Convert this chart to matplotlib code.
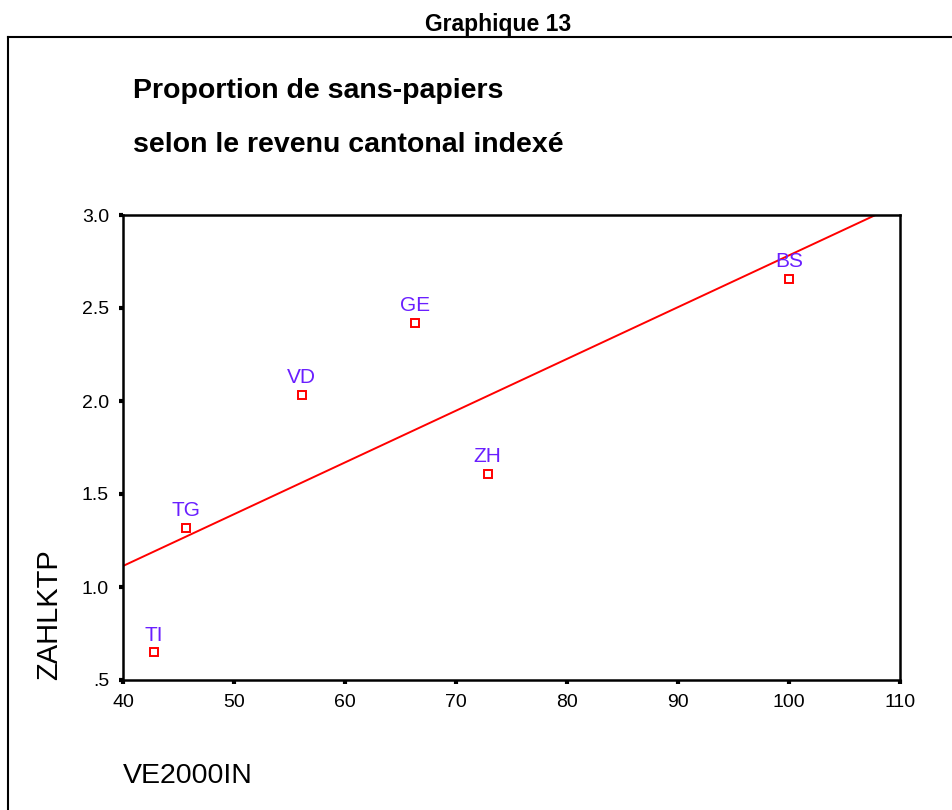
import numpy as np
import matplotlib
matplotlib.use("Agg")
import matplotlib.pyplot as plt
from matplotlib.lines import Line2D

plt.rcParams['font.family'] = ['Liberation Sans', 'DejaVu Sans']

# Data
cantons = ["TI", "TG", "VD", "GE", "ZH", "BS"]
revenu = [42.8, 45.65, 56.1, 66.35, 72.85, 100.0]     # VE2000IN
proportion = [0.648, 1.316, 2.032, 2.421, 1.606, 2.656]  # ZAHLKTP

xticks = [40, 50, 60, 70, 80, 90, 100, 110]
yticks = [0.5, 1.0, 1.5, 2.0, 2.5, 3.0]
yticklabels = [".5", "1.0", "1.5", "2.0", "2.5", "3.0"]

W, H = 952, 810
fig = plt.figure(figsize=(W / 100, H / 100), dpi=100)

def fx(px):
    return px / W

def fy(py):
    return 1 - py / H

# Outer frame (left and top edges)
fig.add_artist(Line2D([fx(8), fx(8)], [fy(37), fy(812)], color='black', lw=1.5,
                      transform=fig.transFigure))
fig.add_artist(Line2D([fx(8), fx(955)], [fy(37), fy(37)], color='black', lw=1.5,
                      transform=fig.transFigure))

fig.text(fx(498), fy(31), "Graphique 13", ha='center', va='baseline',
         fontsize=16.5, fontweight='bold')
fig.text(fx(133), fy(98), "Proportion de sans-papiers", ha='left', va='baseline',
         fontsize=20.5, fontweight='bold')
fig.text(fx(133), fy(152), "selon le revenu cantonal indexé", ha='left', va='baseline',
         fontsize=20.5, fontweight='bold')

ax = fig.add_axes([fx(123), fy(680), fx(900) - fx(123), fy(215) - fy(680)])
ax.set_xlim(40, 110)
ax.set_ylim(0.5, 3.0)

# Regression line (OLS fit of the points)
slope, intercept = np.polyfit(revenu, proportion, 1)
xl = np.array([40, 110])
ax.plot(xl, intercept + slope * xl, color='#ff0000', lw=1.4, zorder=2)

ax.plot(revenu, proportion, linestyle='none', marker='s', markersize=6,
        markerfacecolor='white', markeredgecolor='#ff0000', markeredgewidth=1.4,
        zorder=3)
for lab, x, y in zip(cantons, revenu, proportion):
    ax.annotate(lab, (x, y), xytext=(0, 8.5), textcoords='offset points',
                ha='center', va='baseline', fontsize=15, color='#6a1fff')

ax.set_xticks(xticks)
ax.set_xticklabels([str(t) for t in xticks])
ax.set_yticks(yticks)
ax.set_yticklabels(yticklabels)
ax.tick_params(direction='out', length=3, width=3, labelsize=14, pad=7, colors='black')
for s in ax.spines.values():
    s.set_linewidth(1.8)
    s.set_color('black')

fig.text(fx(57), fy(680), "ZAHLKTP", rotation=90, rotation_mode='anchor',
         ha='left', va='baseline', fontsize=21)
fig.text(fx(123), fy(783), "VE2000IN", ha='left', va='baseline', fontsize=20.5)

fig.savefig("out.png", dpi=100)
